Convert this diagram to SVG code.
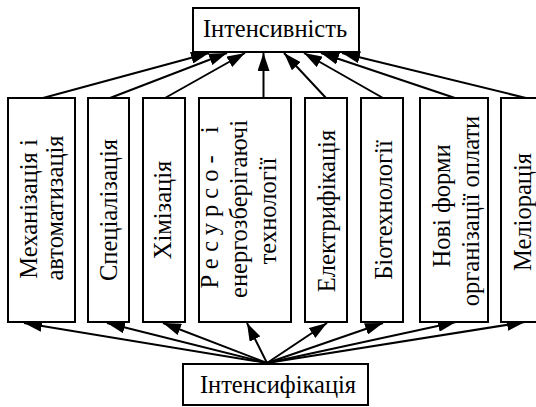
<svg xmlns="http://www.w3.org/2000/svg" width="536" height="407" viewBox="0 0 536 407">
<defs>
  <marker id="ah" markerUnits="userSpaceOnUse" markerWidth="18" markerHeight="12" refX="18" refY="6" orient="auto">
    <path d="M0,0 L18,6 L0,12 z" fill="#000000"/>
  </marker>
</defs>
<rect x="0" y="0" width="536" height="407" fill="#ffffff"/>
<g id="connectors" stroke="#000000" stroke-width="2" fill="none" marker-end="url(#ah)">
  <line x1="43" y1="98" x2="209" y2="53"/>
  <line x1="110" y1="98" x2="227" y2="53"/>
  <line x1="165" y1="98" x2="245" y2="53"/>
  <line x1="263.5" y1="98" x2="263.5" y2="53"/>
  <line x1="326" y1="98" x2="284" y2="53"/>
  <line x1="383" y1="98" x2="304" y2="53"/>
  <line x1="455" y1="98" x2="321" y2="53"/>
  <line x1="526" y1="98" x2="342" y2="53"/>
  <line x1="267" y1="363" x2="24" y2="323"/>
  <line x1="267" y1="363" x2="107" y2="323"/>
  <line x1="267" y1="363" x2="163" y2="323"/>
  <line x1="267" y1="363" x2="247" y2="323"/>
  <line x1="267" y1="363" x2="327" y2="323"/>
  <line x1="267" y1="363" x2="383" y2="323"/>
  <line x1="267" y1="363" x2="456" y2="322"/>
  <line x1="267" y1="363" x2="525" y2="322"/>
</g>
<g id="intensity">
  <rect x="193" y="8" width="166" height="44" fill="#ffffff" stroke="#000000" stroke-width="2"/>
  <text x="275" y="37" font-family="Liberation Serif" font-size="24.5" fill="#000" text-anchor="middle">Інтенсивність</text>
</g>
<g id="mechanization">
  <rect x="8" y="98" width="67" height="224" fill="#ffffff" stroke="#000000" stroke-width="2"/>
  <text transform="translate(0,210) rotate(-90)" x="1" y="37" font-family="Liberation Serif" font-size="24.5" fill="#000" text-anchor="middle">Механізація і</text>
  <text transform="translate(0,210) rotate(-90)" x="2" y="63" font-family="Liberation Serif" font-size="24.5" fill="#000" text-anchor="middle">автоматизація</text>
</g>
<g id="specialization">
  <rect x="88" y="98" width="41" height="224" fill="#ffffff" stroke="#000000" stroke-width="2"/>
  <text transform="translate(0,210) rotate(-90)" x="0" y="117" font-family="Liberation Serif" font-size="24.5" fill="#000" text-anchor="middle">Спеціалізація</text>
</g>
<g id="chemicalization">
  <rect x="143" y="98" width="42" height="224" fill="#ffffff" stroke="#000000" stroke-width="2"/>
  <text transform="translate(0,210) rotate(-90)" x="0" y="171" font-family="Liberation Serif" font-size="24.5" fill="#000" text-anchor="middle">Хімізація</text>
</g>
<g id="resource">
  <rect x="199" y="98" width="92" height="224" fill="#ffffff" stroke="#000000" stroke-width="2"/>
  <text transform="translate(0,210) rotate(-90)" x="5.5" y="218" font-family="Liberation Serif" font-size="24.5" fill="#000" text-anchor="middle" letter-spacing="6" word-spacing="4">Ресурсо- і</text>
  <text transform="translate(0,210) rotate(-90)" x="1" y="247" font-family="Liberation Serif" font-size="24.5" fill="#000" text-anchor="middle">енергозберігаючі</text>
  <text transform="translate(0,210) rotate(-90)" x="-1" y="276" font-family="Liberation Serif" font-size="24.5" fill="#000" text-anchor="middle">технології</text>
</g>
<g id="electrification">
  <rect x="305" y="98" width="42" height="224" fill="#ffffff" stroke="#000000" stroke-width="2"/>
  <text transform="translate(0,210) rotate(-90)" x="-1" y="335" font-family="Liberation Serif" font-size="24.5" fill="#000" text-anchor="middle">Електрифікація</text>
</g>
<g id="biotech">
  <rect x="361" y="98" width="42" height="224" fill="#ffffff" stroke="#000000" stroke-width="2"/>
  <text transform="translate(0,210) rotate(-90)" x="0" y="392" font-family="Liberation Serif" font-size="24.5" fill="#000" text-anchor="middle">Біотехнології</text>
</g>
<g id="new-forms">
  <rect x="420" y="98" width="68" height="224" fill="#ffffff" stroke="#000000" stroke-width="2"/>
  <text transform="translate(0,210) rotate(-90)" x="4" y="450" font-family="Liberation Serif" font-size="24.5" fill="#000" text-anchor="middle">Нові форми</text>
  <text transform="translate(0,210) rotate(-90)" x="-1" y="479" font-family="Liberation Serif" font-size="24.5" fill="#000" text-anchor="middle">організації оплати</text>
</g>
<g id="melioration">
  <rect x="501" y="98" width="45" height="224" fill="#ffffff" stroke="#000000" stroke-width="2"/>
  <text transform="translate(0,210) rotate(-90)" x="-2" y="531" font-family="Liberation Serif" font-size="24.5" fill="#000" text-anchor="middle">Меліорація</text>
</g>
<g id="intensification">
  <rect x="183" y="364" width="185" height="41" fill="#ffffff" stroke="#000000" stroke-width="2"/>
  <text x="278" y="393" font-family="Liberation Serif" font-size="24.5" fill="#000" text-anchor="middle">Інтенсифікація</text>
</g>
</svg>
